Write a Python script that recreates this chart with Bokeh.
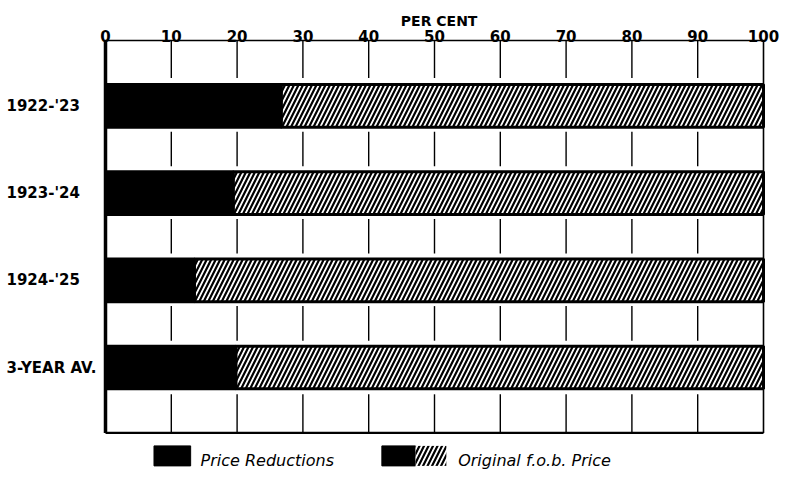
import numpy as np
from bokeh.plotting import figure
from bokeh.models import Range1d, ColumnDataSource
from bokeh.core.properties import value
from bokeh.embed import file_html
from bokeh.resources import INLINE

# ---------------- data ----------------
periods = ["1922-'23", "1923-'24", "1924-'25", "3-YEAR AV."]
price_reductions = [26.7, 19.4, 13.5, 19.8]      # per cent of original f.o.b. price
original_price = [100, 100, 100, 100]            # original f.o.b. price = 100 %
ticks = [0, 10, 20, 30, 40, 50, 60, 70, 80, 90, 100]
tick_labels = [str(t) for t in ticks]
axis_title = "PER CENT"
legend_labels = ["Price Reductions", "Original f.o.b. Price"]

# ---------------- geometry ----------------
W, H = 780, 472
PXX = 6.58            # px per per-cent unit
X0 = 105              # canvas x of 0 %
ROW = 43.6            # px per row unit
TOP = 40              # canvas y of top frame line
x_start = -X0 / PXX
x_end = x_start + W / PXX
y_end = 9 + TOP / ROW
y_start = y_end - H / ROW

FONT = value("DejaVu Sans")

p = figure(width=W, height=H, output_backend="svg", toolbar_location=None,
           x_range=Range1d(x_start, x_end), y_range=Range1d(y_start, y_end),
           x_axis_type=None, y_axis_type=None,
           min_border_left=0, min_border_right=0, min_border_top=0, min_border_bottom=0)
p.outline_line_color = None
p.background_fill_color = "white"
p.border_fill_color = "white"

n = len(periods)
yc = [9 - (2 * i + 1.5) for i in range(n)]
bar_h = 0.98

src = ColumnDataSource(dict(y=yc, red=price_reductions, tot=original_price, label=periods))

# gridline segments in the empty rows
grid_x = ticks[1:-1]
gx0, gy0, gy1 = [], [], []
row_bounds = [(9, 8 + 6 / ROW)]
for i in range(n - 1):
    row_bounds.append((yc[i] - 0.5 - 4 / ROW, yc[i + 1] + 0.5 + 5 / ROW))
row_bounds.append((yc[-1] - 0.5 - 5 / ROW, 0))
for (a, b) in row_bounds:
    for gx in grid_x:
        gx0.append(gx); gy0.append(a); gy1.append(b)
p.segment(x0=gx0, y0=gy0, x1=gx0, y1=gy1, line_color="black", line_width=1.4)

# frame lines
p.segment(x0=[0], y0=[9], x1=[100], y1=[9], line_color="black", line_width=1.6)
p.segment(x0=[100], y0=[9], x1=[100], y1=[0], line_color="black", line_width=1.6)
p.segment(x0=[0], y0=[0], x1=[100], y1=[0], line_color="black", line_width=2.2)

HATCH = dict(fill_color="white", hatch_pattern="/", hatch_color="black",
             hatch_scale=9, hatch_weight=2.2)

# bars
p.hbar(y="y", left="red", right="tot", height=bar_h, source=src,
       line_color="black", line_width=3, **HATCH)
p.hbar(y="y", left=0, right="red", height=bar_h, source=src,
       fill_color="black", line_color="black", line_width=3)

# left axis (thick)
p.segment(x0=[0], y0=[9], x1=[0], y1=[0], line_color="black", line_width=3.5)

# tick labels (top)
p.text(x=ticks, y=[9 + 4.5 / ROW] * len(ticks), text=tick_labels,
       text_align="center", text_baseline="alphabetic",
       text_font=FONT, text_font_style="bold", text_font_size="15px", text_color="black")
p.text(x=[50.7], y=[9 + 20 / ROW], text=[axis_title], text_align="center",
       text_baseline="alphabetic", text_font=FONT, text_font_style="bold",
       text_font_size="14px", text_color="black")

# row labels
p.text(x=[x_start + 6 / PXX] * n, y=yc, text=periods, text_align="left",
       text_baseline="middle", text_font=FONT, text_font_style="bold",
       text_font_size="15px", text_color="black")

# legend
lb_top = -13 / ROW
lb_bot = -33 / ROW
lt_y = -28 / ROW
p.quad(left=[7.37, 42.0], right=[12.94, 47.1], top=[lb_top] * 2, bottom=[lb_bot] * 2,
       fill_color="black", line_color="black", line_width=1)
p.quad(left=[47.1], right=[51.8], top=[lb_top], bottom=[lb_bot],
       line_color=None, **HATCH)
p.text(x=[14.45, 53.6], y=[lt_y] * 2, text=legend_labels, text_align="left",
       text_baseline="alphabetic", text_font=FONT, text_font_style="italic",
       text_font_size="16px", text_color="black")

open("out.html", "w").write(file_html(p, INLINE))
